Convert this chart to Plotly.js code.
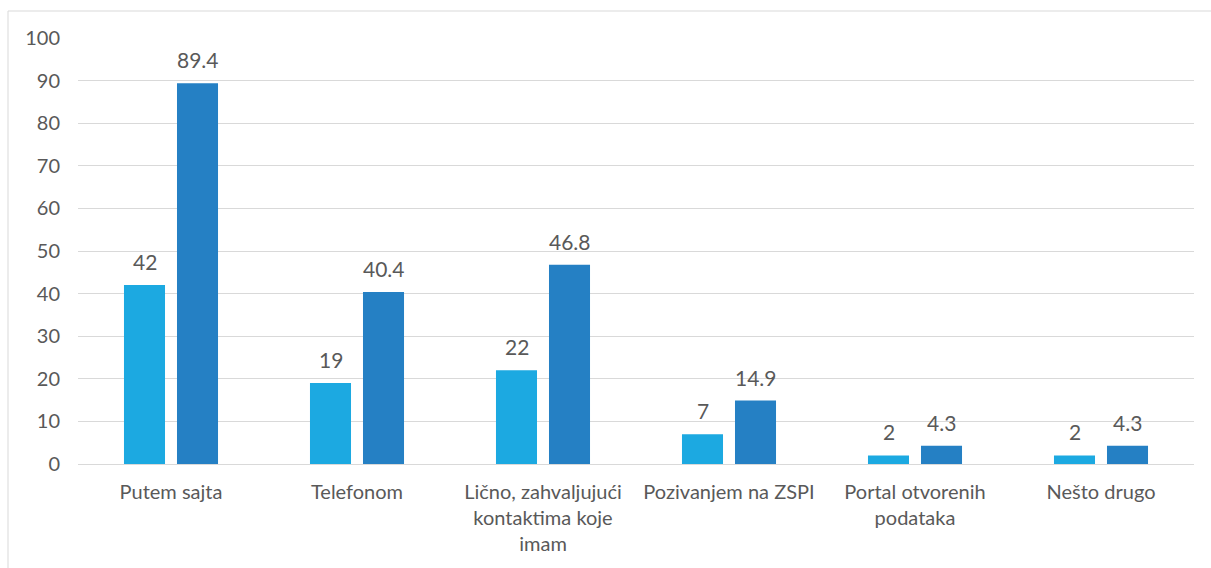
<!DOCTYPE html>
<html>
<head>
<meta charset="utf-8">
<script src="https://cdn.plot.ly/plotly-3.0.1.min.js"></script>
<style>html,body{margin:0;padding:0;background:#fff;} #chart{width:1211px;height:568px;}</style>
</head>
<body>
<div id="chart"></div>
<script>
const categories = ["Putem sajta", "Telefonom", "Lično, zahvaljujući<br>kontaktima koje<br>imam", "Pozivanjem na ZSPI", "Portal otvorenih<br>podataka", "Nešto drugo"];
const series1 = [42, 19, 22, 7, 2, 2];
const series2 = [89.4, 40.4, 46.8, 14.9, 4.3, 4.3];
const yTicks = [0, 10, 20, 30, 40, 50, 60, 70, 80, 90, 100];

const font = "Lato, 'Open Sans', sans-serif";
const labelColor = "#595959";

const traces = [
  {type: "bar", x: categories, y: series1, marker: {color: "#1CA9E1"}, hoverinfo: "none"},
  {type: "bar", x: categories, y: series2, marker: {color: "#2580C4"}, hoverinfo: "none"}
];

// data labels above each bar (offset to the bar's position within its group)
const annotations = [];
[[series1, -26.5], [series2, 26.5]].forEach(([vals, dx]) => {
  vals.forEach((v, i) => {
    annotations.push({x: categories[i], y: v, xref: "x", yref: "y", text: String(v),
      showarrow: false, xanchor: "center", yanchor: "bottom", xshift: dx, yshift: 9,
      font: {family: font, size: 21, color: labelColor}});
  });
});

const layout = {
  width: 1211, height: 568,
  margin: {l: 78, r: 17, t: 38, b: 104},
  paper_bgcolor: "#fff", plot_bgcolor: "#fff",
  showlegend: false,
  barmode: "group", bargap: 0.43, bargroupgap: 0.226,
  font: {family: font, size: 20, color: labelColor},
  xaxis: {type: "category", showgrid: false, showline: false, zeroline: false,
          ticks: "", tickfont: {family: font, size: 20, color: labelColor}, ticklabelstandoff: 14},
  yaxis: {range: [0, 100], tickvals: yTicks, ticktext: yTicks.map(String),
          showgrid: true, gridcolor: "#D9D9D9", gridwidth: 1,
          zeroline: true, zerolinecolor: "#D9D9D9", zerolinewidth: 1,
          showline: false, ticks: "", ticklabelstandoff: 17,
          tickfont: {family: font, size: 20, color: labelColor}},
  annotations: annotations,
  shapes: [{type: "rect", xref: "paper", yref: "paper",
            x0: (8 - 78) / 1116, x1: 1.2, y0: -0.5, y1: 1 + (38 - 11) / 426,
            line: {color: "#D9D9D9", width: 1}, fillcolor: "rgba(0,0,0,0)", layer: "below"}]
};

Plotly.newPlot("chart", traces, layout, {staticPlot: true, displayModeBar: false});
</script>
</body>
</html>
